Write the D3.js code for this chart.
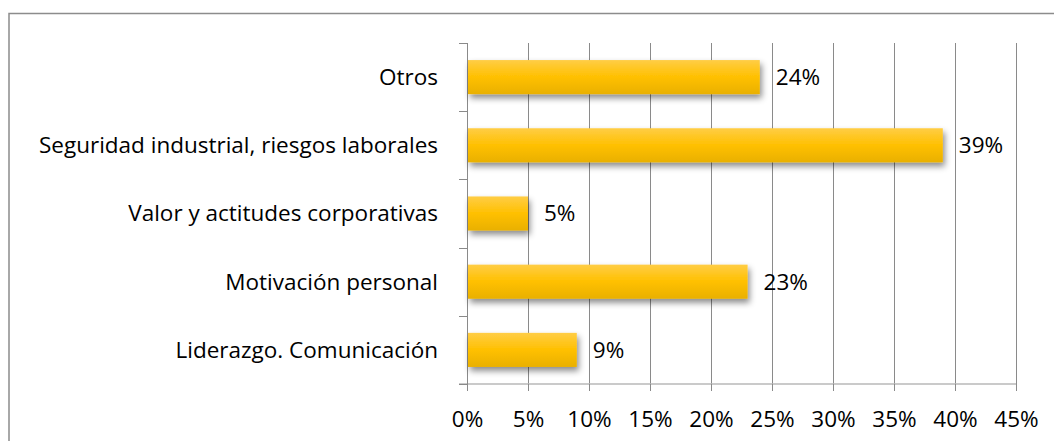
<!DOCTYPE html>
<html><head><meta charset="utf-8">
<script src="https://cdn.jsdelivr.net/npm/d3@7"></script>
<style>html,body{margin:0;padding:0;background:#fff;overflow:hidden}svg{display:block}</style>
</head><body><svg id="c" width="1054" height="441"></svg>
<script>
const categories = ["Otros", "Seguridad industrial, riesgos laborales", "Valor y actitudes corporativas", "Motivación personal", "Liderazgo. Comunicación"];
const values = [24, 39, 5, 23, 9];
const tickValues = [0, 5, 10, 15, 20, 25, 30, 35, 40, 45];

(function(){
const svg = d3.select("#c");
const font = "'Open Sans', Lato, sans-serif";
const fs = 22.5;
const pLeft = 467, pRight = 1016, pTop = 43, pBottom = 384;

const defs = svg.append("defs");
const g = defs.append("linearGradient").attr("id","bar").attr("x1",0).attr("y1",0).attr("x2",0).attr("y2",1);
g.append("stop").attr("offset","0%").attr("stop-color","#FFCD45");
g.append("stop").attr("offset","50%").attr("stop-color","#FFC000");
g.append("stop").attr("offset","100%").attr("stop-color","#E9B000");
const f = defs.append("filter").attr("id","sh").attr("x","-10%").attr("y","-30%").attr("width","130%").attr("height","180%");
f.append("feDropShadow").attr("dx",2).attr("dy",4).attr("stdDeviation",3).attr("flood-color","#000").attr("flood-opacity",0.45);

// frame
svg.append("rect").attr("x",9).attr("y",13.5).attr("width",1100).attr("height",500)
  .attr("fill","none").attr("stroke","#8c8c8c").attr("stroke-width",1.5);

const x = d3.scaleLinear().domain([0,45]).range([pLeft,pRight]);
const y = d3.scaleBand().domain(categories).range([pTop,pBottom]).paddingInner(0.5).paddingOuter(0.25);
const yb = d3.scaleBand().domain(categories).range([pTop,pBottom]);

// gridlines
svg.append("g").selectAll("line").data(tickValues.slice(1)).join("line")
  .attr("x1",d=>Math.round(x(d))+0.5).attr("x2",d=>Math.round(x(d))+0.5)
  .attr("y1",pTop).attr("y2",pBottom).attr("stroke","#8a8a8a").attr("stroke-width",1);

// bottom axis
const xa = svg.append("g").attr("transform",`translate(0,${pBottom})`)
  .call(d3.axisBottom(x).tickValues(tickValues).tickFormat(d=>d+"%").tickSize(7).tickPadding(20));
xa.select(".domain").attr("stroke","#b8b8b8").attr("stroke-width",1.5).attr("d",`M${pLeft-8},0H${pRight}`);
xa.selectAll(".tick line").attr("stroke","#8a8a8a");
xa.selectAll("text").attr("font-family",font).attr("font-size",fs).attr("fill","#000");

// left axis
const ya = svg.append("g").attr("transform",`translate(${pLeft},0)`);
ya.append("line").attr("x1",0.5).attr("x2",0.5).attr("y1",pTop).attr("y2",pBottom+7).attr("stroke","#8a8a8a");
const bounds = categories.map(c=>yb(c)).concat([pBottom]);
ya.selectAll("line.t").data(bounds).join("line").attr("class","t")
  .attr("x1",-8).attr("x2",0).attr("y1",d=>Math.round(d)+0.5).attr("y2",d=>Math.round(d)+0.5).attr("stroke","#8a8a8a");
ya.selectAll("text").data(categories).join("text")
  .attr("x",-29).attr("y",d=>yb(d)+yb.bandwidth()/2).attr("dy","0.35em")
  .attr("text-anchor","end").attr("font-family",font).attr("font-size",fs).attr("fill","#000").text(d=>d);

// bars
svg.append("g").selectAll("rect").data(categories).join("rect")
  .attr("x",pLeft+1).attr("y",d=>y(d)).attr("height",y.bandwidth())
  .attr("width",(d,i)=>x(values[i])-pLeft-1).attr("fill","url(#bar)").attr("filter","url(#sh)");

// value labels
svg.append("g").selectAll("text").data(categories).join("text")
  .attr("x",(d,i)=>x(values[i])+16).attr("y",d=>y(d)+y.bandwidth()/2).attr("dy","0.35em")
  .attr("font-family",font).attr("font-size",fs).attr("fill","#000").text((d,i)=>values[i]+"%");
})();
</script></body></html>
